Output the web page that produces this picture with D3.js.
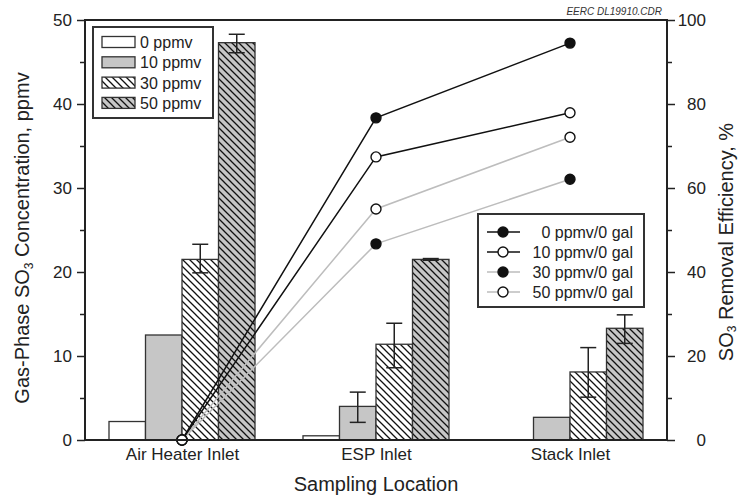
<!DOCTYPE html>
<html>
<head>
<meta charset="utf-8">
<script src="https://cdn.jsdelivr.net/npm/d3@7"></script>
<style>
  body { margin: 0; background: #fff; }
  svg { font-family: "Liberation Sans", Arial, sans-serif; }
</style>
</head>
<body>
<svg id="chart" width="740" height="499"></svg>
<script>
// categories and series
const categories = ["Air Heater Inlet", "ESP Inlet", "Stack Inlet"];
const concSeries = ["0 ppmv", "10 ppmv", "30 ppmv", "50 ppmv"];
const conc0 = [2.2, 0.5, 0];
const conc10 = [12.5, 4.0, 2.7];
const conc30 = [21.5, 11.4, 8.1];
const conc50 = [47.3, 21.5, 13.3];
// error bars (low / high), null where there is none
const err10Low = [null, 2.1, null];
const err10High = [null, 5.7, null];
const err30Low = [19.9, 8.6, 5.1];
const err30High = [23.3, 13.9, 11.0];
const err50Low = [46.1, 21.4, 11.5];
const err50High = [48.3, 21.6, 14.9];

const effSeries = ["0 ppmv/0 gal", "10 ppmv/0 gal", "30 ppmv/0 gal", "50 ppmv/0 gal"];
const eff0 = [0, 76.7, 94.5];
const eff10 = [0, 67.4, 77.9];
const eff30 = [0, 46.7, 62.1];
const eff50 = [0, 55.0, 72.1];

const leftTicks = [0, 10, 20, 30, 40, 50];
const rightTicks = [0, 20, 40, 60, 80, 100];

const svg = d3.select("#chart");
const pLeft = 85, pRight = 667, pTop = 20, pBottom = 440;

const x = d3.scalePoint().domain(categories).range([pLeft, pRight]).padding(0.5);
const xs = d3.scaleBand().domain(concSeries).range([-73, 73]);
const y = d3.scaleLinear().domain([0, 50]).range([pBottom, pTop]);
const y2 = d3.scaleLinear().domain([0, 100]).range([pBottom, pTop]);

// hatch patterns
const defs = svg.append("defs");
function hatch(id, bg) {
  const p = defs.append("pattern")
    .attr("id", id)
    .attr("patternUnits", "userSpaceOnUse")
    .attr("width", 7).attr("height", 7);
  p.append("rect").attr("width", 7).attr("height", 7).attr("fill", bg);
  p.append("path")
    .attr("d", "M0,0L7,7M-1,6L1,8M6,-1L8,1")
    .attr("stroke", "#111").attr("stroke-width", 1.3);
}
hatch("h30", "#fff");
hatch("h50", "#c6c6c6");

const fills = ["#fff", "#c6c6c6", "url(#h30)", "url(#h50)"];
const concValues = [conc0, conc10, conc30, conc50];
const errLow = [null, err10Low, err30Low, err50Low];
const errHigh = [null, err10High, err30High, err50High];

// bars
const bars = [];
concSeries.forEach((s, i) => {
  categories.forEach((c, j) => {
    bars.push({ s, i, c, v: concValues[i][j],
      lo: errLow[i] ? errLow[i][j] : null,
      hi: errHigh[i] ? errHigh[i][j] : null });
  });
});

svg.append("g")
  .selectAll("rect")
  .data(bars.filter(d => d.v > 0))
  .enter()
  .append("rect")
  .attr("x", d => x(d.c) + xs(d.s))
  .attr("y", d => y(d.v))
  .attr("width", xs.bandwidth())
  .attr("height", d => y(0) - y(d.v))
  .attr("fill", d => fills[d.i])
  .attr("stroke", "#333")
  .attr("stroke-width", 1.3);

// error bars
const eb = svg.append("g").attr("stroke", "#222").attr("stroke-width", 1.5);
bars.filter(d => d.lo !== null).forEach(d => {
  const cx = x(d.c) + xs(d.s) + xs.bandwidth() / 2;
  eb.append("line").attr("x1", cx).attr("x2", cx).attr("y1", y(d.lo)).attr("y2", y(d.hi));
  eb.append("line").attr("x1", cx - 8).attr("x2", cx + 8).attr("y1", y(d.lo)).attr("y2", y(d.lo));
  eb.append("line").attr("x1", cx - 8).attr("x2", cx + 8).attr("y1", y(d.hi)).attr("y2", y(d.hi));
});

// efficiency lines
const effValues = [eff0, eff10, eff30, eff50];
const lineColors = ["#111", "#111", "#bdbdbd", "#bdbdbd"];
const markerFill = ["#111", "#fff", "#111", "#fff"];
const line = d3.line().x((d, j) => x(categories[j])).y(d => y2(d));

[3, 2, 1, 0].forEach(i => {
  svg.append("path")
    .attr("d", line(effValues[i]))
    .attr("fill", "none")
    .attr("stroke", lineColors[i])
    .attr("stroke-width", 1.5);
});
// markers in series order, the last (open) one ends up on top at the origin
[0, 1, 2, 3].forEach(i => {
  svg.append("g")
    .selectAll("circle")
    .data(effValues[i])
    .enter()
    .append("circle")
    .attr("cx", (d, j) => x(categories[j]))
    .attr("cy", d => y2(d))
    .attr("r", 5)
    .attr("fill", markerFill[i])
    .attr("stroke", "#111")
    .attr("stroke-width", 1.4);
});

// axes
const axisL = svg.append("g").attr("transform", `translate(${pLeft},0)`)
  .call(d3.axisLeft(y).tickValues(d3.range(0, 51, 5)).tickSize(7).tickFormat(d => leftTicks.includes(d) ? d : ""));
axisL.selectAll(".tick line").attr("x2", d => leftTicks.includes(d) ? -8 : -5);
const axisR = svg.append("g").attr("transform", `translate(${pRight},0)`)
  .call(d3.axisRight(y2).tickValues(d3.range(0, 101, 10)).tickSize(7).tickFormat(d => rightTicks.includes(d) ? d : ""));
axisR.selectAll(".tick line").attr("x2", d => rightTicks.includes(d) ? 8 : 5);
[axisL, axisR].forEach(a => {
  a.select(".domain").remove();
  a.selectAll(".tick line").attr("stroke", "#222").attr("stroke-width", 1.5);
  a.selectAll("text").attr("font-size", 17).attr("fill", "#222")
    .attr("font-family", "Liberation Sans, Arial, sans-serif");
});
axisL.selectAll("text").attr("x", -13);
axisR.selectAll("text").attr("x", 39).attr("text-anchor", "end");

const axisB = svg.append("g").attr("transform", `translate(0,${pBottom})`)
  .call(d3.axisBottom(x).tickSize(0).tickPadding(8));
axisB.select(".domain").remove();
axisB.selectAll("text").attr("font-size", 17).attr("fill", "#222")
  .attr("font-family", "Liberation Sans, Arial, sans-serif");

// frame
svg.append("path")
  .attr("d", `M${pLeft},${pBottom}V${pTop}H${pRight}V${pBottom}H${pLeft}`)
  .attr("fill", "none").attr("stroke", "#222").attr("stroke-width", 2);

// axis titles
const tl = svg.append("text")
  .attr("transform", `translate(29,${(pTop + pBottom) / 2 + 8}) rotate(-90)`)
  .attr("text-anchor", "middle").attr("font-size", 20).attr("fill", "#222");
tl.append("tspan").text("Gas-Phase SO");
tl.append("tspan").attr("font-size", 12).attr("dy", 4).text("3");
tl.append("tspan").attr("dy", -4).text(" Concentration, ppmv");

const tr = svg.append("text")
  .attr("transform", `translate(733,${(pTop + pBottom) / 2 + 12}) rotate(-90)`)
  .attr("text-anchor", "middle").attr("font-size", 20).attr("fill", "#222");
tr.append("tspan").text("SO");
tr.append("tspan").attr("font-size", 12).attr("dy", 3).text("3");
tr.append("tspan").attr("dy", -3).text(" Removal Efficiency, %");

svg.append("text")
  .attr("x", (pLeft + pRight) / 2).attr("y", 491)
  .attr("text-anchor", "middle").attr("font-size", 20).attr("fill", "#222")
  .text("Sampling Location");

svg.append("text")
  .attr("x", 662).attr("y", 15)
  .attr("text-anchor", "end").attr("font-size", 10).attr("font-style", "italic").attr("fill", "#333")
  .text("EERC DL19910.CDR");

// legend 1 (bars)
const lg1 = svg.append("g");
lg1.append("rect").attr("x", 93).attr("y", 27).attr("width", 120).attr("height", 91)
  .attr("fill", "#fff").attr("stroke", "#333").attr("stroke-width", 2);
concSeries.forEach((s, i) => {
  const cy = 42 + i * 20.3;
  lg1.append("rect").attr("x", 102).attr("y", cy - 5.5).attr("width", 33).attr("height", 11)
    .attr("fill", fills[i]).attr("stroke", "#333").attr("stroke-width", 1.3);
  lg1.append("text").attr("x", 140).attr("y", cy + 6).attr("font-size", 16).attr("fill", "#222").text(s);
});

// legend 2 (lines)
const lg2 = svg.append("g");
lg2.append("rect").attr("x", 478).attr("y", 214).attr("width", 166).attr("height", 93)
  .attr("fill", "#fff").attr("stroke", "#333").attr("stroke-width", 2);
effSeries.forEach((s, i) => {
  const cy = 232 + i * 20;
  lg2.append("line").attr("x1", 487).attr("x2", 520).attr("y1", cy).attr("y2", cy)
    .attr("stroke", lineColors[i]).attr("stroke-width", 1.5);
  lg2.append("circle").attr("cx", 503).attr("cy", cy).attr("r", 5)
    .attr("fill", markerFill[i]).attr("stroke", "#111").attr("stroke-width", 1.4);
  lg2.append("text").attr("x", 633).attr("y", cy + 5.5).attr("text-anchor", "end")
    .attr("font-size", 16).attr("fill", "#222").text(s);
});
</script>
</body>
</html>
